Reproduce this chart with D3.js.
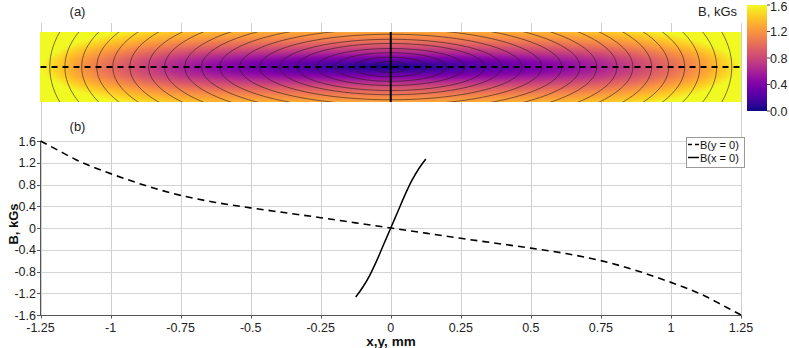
<!DOCTYPE html>
<html><head><meta charset="utf-8">
<script src="https://cdn.jsdelivr.net/npm/d3@7"></script>
<style>
html,body{margin:0;padding:0;background:#fff;}
svg{display:block;font-family:"Liberation Sans",Arial,sans-serif;}
</style></head>
<body>
<svg id="c" width="789" height="348"></svg>
<script>
// ---- data ----
const xTicks = [-1.25,-1,-0.75,-0.5,-0.25,0,0.25,0.5,0.75,1,1.25];
const xTickLabels = ["-1.25","-1","-0.75","-0.5","-0.25","0","0.25","0.5","0.75","1","1.25"];
const yTicks = [-1.6,-1.2,-0.8,-0.4,0,0.4,0.8,1.2,1.6];
const yTickLabels = ["-1.6","-1.2","-0.8","-0.4","0","0.4","0.8","1.2","1.6"];
const cbTicks = [0,0.4,0.8,1.2,1.6];
const cbTickLabels = ["0.0","0.4","0.8","1.2","1.6"];

// B along y = 0 (x in mm, B in kGs)
const profX = [-1.25,-1.1875,-1.125,-1.0625,-1,-0.875,-0.75,-0.625,-0.5,-0.375,-0.25,-0.125,0,0.125,0.25,0.375,0.5,0.625,0.75,0.875,1,1.0625,1.125,1.1875,1.25];
const profBx = [1.60,1.43,1.26,1.12,1.00,0.78,0.60,0.47,0.37,0.28,0.19,0.095,0,-0.095,-0.19,-0.28,-0.37,-0.47,-0.60,-0.78,-1.00,-1.12,-1.26,-1.43,-1.60];
// B along x = 0 (y in mm, B in kGs)
const profY = [-0.125,-0.1,-0.075,-0.05,-0.025,0,0.025,0.05,0.075,0.1,0.125];
const profBy = [-1.27,-1.09,-0.87,-0.60,-0.30,0,0.30,0.60,0.87,1.09,1.27];

// contour lines of map (a): semi-axes in mm
const contourA = [0.061,0.132,0.199,0.264,0.335,0.396,0.468,0.539,0.610,0.675,0.735,0.807,0.864,0.931,0.992,1.049,1.103,1.163,1.217];
const contourB = [0.020,0.035,0.051,0.066,0.084,0.099,0.117,0.136,0.156,0.177,0.199,0.224,0.246,0.274,0.300,0.328,0.382,0.432,0.521];

// ---- scales ----
const svg = d3.select("#c");
const x = d3.scaleLinear().domain([-1.25,1.25]).range([40.5,741]);
const y = d3.scaleLinear().domain([-1.6,1.6]).range([315,141]);
const yTop = d3.scaleLinear().domain([-0.125,0.125]).range([102,32]);
const cb = d3.scaleLinear().domain([0,1.6]).range([111,5]);
const color = v => d3.interpolatePlasma(Math.max(0,Math.min(1,v/1.6)));
const bxOf = d3.scaleLinear().domain(profX).range(profBx).clamp(true);
const byOf = d3.scaleLinear().domain(profY).range(profBy).clamp(true);

// ---- vertical grid (spans both panels) ----
svg.append("g").selectAll("line").data(xTicks).join("line")
  .attr("x1",d=>Math.round(x(d))+0.5).attr("x2",d=>Math.round(x(d))+0.5)
  .attr("y1",23).attr("y2",315).attr("stroke","#cfcfcf").attr("stroke-width",1);
// horizontal grid (b)
svg.append("g").selectAll("line").data(yTicks).join("line")
  .attr("x1",40).attr("x2",741)
  .attr("y1",d=>Math.round(y(d))+0.5).attr("y2",d=>Math.round(y(d))+0.5)
  .attr("stroke","#d4d4d4").attr("stroke-width",1.2);

// ---- heatmap (a) ----
const hx0 = 40, hx1 = 741, hy0 = 32, hy1 = 102;
const W = hx1-hx0, H = hy1-hy0;
const cnv = document.createElement("canvas");
cnv.width = W; cnv.height = H;
const ctx = cnv.getContext("2d");
const img = ctx.createImageData(W,H);
for (let j=0;j<H;j++){
  const yy = yTop.invert(hy0+j+0.5);
  const by = byOf(yy);
  for (let i=0;i<W;i++){
    const xx = x.invert(hx0+i+0.5);
    const bx = bxOf(xx);
    const c = d3.rgb(color(Math.sqrt(bx*bx+by*by)));
    const k = (j*W+i)*4;
    img.data[k]=c.r; img.data[k+1]=c.g; img.data[k+2]=c.b; img.data[k+3]=255;
  }
}
ctx.putImageData(img,0,0);
svg.append("image").attr("x",hx0).attr("y",hy0).attr("width",W).attr("height",H)
  .attr("preserveAspectRatio","none").attr("href",cnv.toDataURL());

svg.append("clipPath").attr("id","hclip").append("rect")
  .attr("x",hx0).attr("y",hy0).attr("width",W).attr("height",H);
const angles = d3.range(0,361,2).map(a=>a*Math.PI/180);
const ell = d3.line().x(p=>x(p[0])).y(p=>yTop(p[1]));
svg.append("g").attr("clip-path","url(#hclip)").selectAll("path")
  .data(contourA.map((a,i)=>angles.map(t=>[a*Math.cos(t), contourB[i]*Math.sin(t)])))
  .join("path").attr("d",ell).attr("fill","none")
  .attr("stroke","#2a1a1a").attr("stroke-opacity",0.7).attr("stroke-width",0.85);

// dashed y=0 and solid x=0 on map
svg.append("line").attr("x1",x(-1.25)).attr("x2",x(1.25)).attr("y1",yTop(0)).attr("y2",yTop(0))
  .attr("stroke","#000").attr("stroke-width",1.8).attr("stroke-dasharray","6,5");
svg.append("line").attr("x1",x(0)).attr("x2",x(0)).attr("y1",yTop(0.125)).attr("y2",yTop(-0.125))
  .attr("stroke","#000").attr("stroke-width",2);

// ---- colorbar ----
const grad = svg.append("defs").append("linearGradient").attr("id","cbg")
  .attr("x1",0).attr("x2",0).attr("y1",1).attr("y2",0);
d3.range(0,1.0001,0.05).forEach(t=>grad.append("stop").attr("offset",t).attr("stop-color",d3.interpolatePlasma(t)));
svg.append("rect").attr("x",747).attr("y",cb(1.6)).attr("width",20).attr("height",cb(0)-cb(1.6)).attr("fill","url(#cbg)");
const cbg = svg.append("g").selectAll("g").data(cbTicks).join("g");
cbg.append("line").attr("x1",767).attr("x2",770).attr("y1",d=>cb(d)).attr("y2",d=>cb(d)).attr("stroke","#444");
cbg.append("text").attr("x",770).attr("y",d=>Math.max(cb(d)+4.5,11)).attr("font-size",12.5).attr("fill","#222")
  .text((d,i)=>cbTickLabels[i]);
svg.append("text").attr("x",737).attr("y",16).attr("text-anchor","end").attr("font-size",13).attr("fill","#222").text("B, kGs");

// ---- panel labels ----
svg.append("text").attr("x",77.5).attr("y",16).attr("text-anchor","middle").attr("font-size",13).attr("fill","#222").text("(a)");
svg.append("text").attr("x",77.5).attr("y",131).attr("text-anchor","middle").attr("font-size",13).attr("fill","#222").text("(b)");

// ---- axes (b) ----
svg.append("line").attr("x1",40.5).attr("x2",40.5).attr("y1",141).attr("y2",315.5).attr("stroke","#555");
svg.append("line").attr("x1",40).attr("x2",741.5).attr("y1",315.5).attr("y2",315.5).attr("stroke","#555");
svg.append("g").selectAll("line").data(yTicks).join("line")
  .attr("x1",37).attr("x2",40.5).attr("y1",d=>Math.round(y(d))+0.5).attr("y2",d=>Math.round(y(d))+0.5).attr("stroke","#555");
svg.append("g").selectAll("line").data(xTicks).join("line")
  .attr("x1",d=>Math.round(x(d))+0.5).attr("x2",d=>Math.round(x(d))+0.5).attr("y1",315.5).attr("y2",318.5).attr("stroke","#555");
svg.append("g").selectAll("text").data(yTicks).join("text")
  .attr("x",36).attr("y",d=>y(d)+4.5).attr("text-anchor","end").attr("font-size",12.5).attr("fill","#222")
  .text((d,i)=>yTickLabels[i]);
svg.append("g").selectAll("text").data(xTicks).join("text")
  .attr("x",d=>x(d)).attr("y",332).attr("text-anchor","middle").attr("font-size",12.5).attr("fill","#222")
  .text((d,i)=>xTickLabels[i]);
svg.append("text").attr("x",391).attr("y",345.5).attr("text-anchor","middle").attr("font-size",13.5).attr("font-weight","bold").attr("fill","#111").text("x,y, mm");
svg.append("text").attr("transform","translate(17.5,224) rotate(-90)").attr("text-anchor","middle").attr("font-size",13).attr("font-weight","bold").attr("fill","#111").text("B, kGs");

// ---- lines (b) ----
const ln = d3.line().curve(d3.curveMonotoneX);
svg.append("path").attr("d",ln(profX.map((v,i)=>[x(v),y(profBx[i])]))).attr("fill","none")
  .attr("stroke","#000").attr("stroke-width",1.6).attr("stroke-dasharray","7,5");
const lny = d3.line().curve(d3.curveMonotoneX);
svg.append("path").attr("d",lny(profY.map((v,i)=>[x(v),y(profBy[i])]))).attr("fill","none")
  .attr("stroke","#000").attr("stroke-width",1.5);

// ---- legend ----
const lg = svg.append("g");
lg.append("rect").attr("x",686.5).attr("y",137.5).attr("width",58).attr("height",30).attr("fill","#fff").attr("stroke","#999");
lg.append("line").attr("x1",688).attr("x2",699).attr("y1",144.5).attr("y2",144.5).attr("stroke","#000").attr("stroke-width",1.5).attr("stroke-dasharray","4,3");
lg.append("line").attr("x1",688).attr("x2",699).attr("y1",157.5).attr("y2",157.5).attr("stroke","#000").attr("stroke-width",1.5);
lg.append("text").attr("x",700).attr("y",149).attr("font-size",11).attr("fill","#111").text("B(y = 0)");
lg.append("text").attr("x",700).attr("y",162).attr("font-size",11).attr("fill","#111").text("B(x = 0)");
</script>
</body></html>
